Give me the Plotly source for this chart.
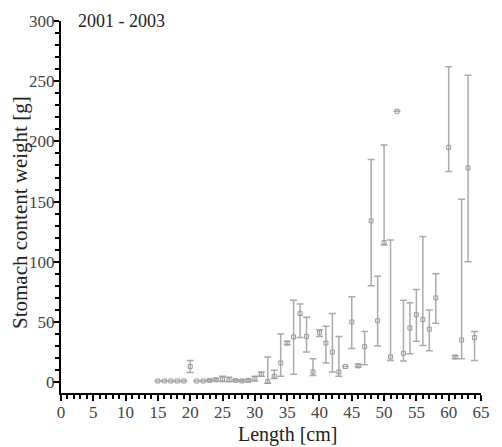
import plotly.graph_objects as go

length_cm = [15, 16, 17, 18, 19, 20, 21, 22, 23, 24, 25, 26, 27, 28, 29, 30, 31,
             32, 33, 34, 35, 36, 37, 38, 39, 40, 41, 42, 43, 44, 45, 46, 47, 48,
             49, 50, 51, 52, 53, 54, 55, 56, 57, 58, 60, 61, 62, 63, 64]
mean_g = [1, 1, 1, 1, 1, 13, 1, 1, 1.5, 2, 2.5, 2, 1.5, 1, 1.5, 3, 6.5,
          0.5, 5, 16, 32.5, 37.5, 57, 38, 8.5, 41, 32.5, 25, 8.5, 13, 50, 13.5, 29.5, 134,
          51, 116, 21, 225, 24, 45, 56, 52, 44, 70, 195, 21, 35, 178, 37]
upper_g = [1, 1, 1, 1, 1, 18, 1, 1, 2, 3, 5, 4, 2, 2, 2.5, 5, 8.5,
           21, 10, 40, 34, 68, 65, 54, 19.5, 43.5, 46.5, 57, 38, 13, 71, 15, 42, 185,
           88, 197, 118, 225, 68, 66, 77, 121, 60, 90, 262, 22, 152, 255, 42]
lower_g = [1, 1, 1, 1, 1, 8, 1, 1, 1, 1, 0.5, 0.5, 1, 0.5, 0.5, 1, 5,
           -1, 3, 5, 31, 6.5, 37, 25, 5.5, 38, 16, 8.5, 5, 13, 28, 12.5, 14.5, 80,
           30, 114, 18, 225, 17.5, 23.5, 34, 30.5, 26, 49, 175, 19.5, 19.5, 100, 18]

err_plus = [u - m for u, m in zip(upper_g, mean_g)]
err_minus = [m - l for m, l in zip(mean_g, lower_g)]

x_ticks = list(range(0, 66, 5))
y_ticks = list(range(0, 301, 50))

FONT = "Liberation Serif"
GREY = "#ababab"

fig = go.Figure()
fig.add_trace(go.Scatter(
    x=length_cm, y=mean_g, mode="markers",
    marker=dict(symbol="square-open", size=4, color="#9a9a9a", line=dict(width=1)),
    error_y=dict(type="data", symmetric=False, array=err_plus, arrayminus=err_minus,
                 color=GREY, thickness=1.5, width=3.5),
    showlegend=False,
))

axis_common = dict(
    showgrid=False, zeroline=False,
    showline=True, linecolor="black", linewidth=2,
    ticks="outside", ticklen=6, tickwidth=2, tickcolor="black",
    tickfont=dict(family=FONT, size=17, color="#444"),
)

fig.update_layout(
    width=502, height=447,
    margin=dict(l=61, r=13, t=18, b=54),
    paper_bgcolor="white", plot_bgcolor="white",
    font=dict(family=FONT, size=17, color="#333"),
    xaxis=dict(range=[0, 65], tickvals=x_ticks,
               minor=dict(dtick=1, ticks="outside", ticklen=4, tickwidth=1.5, tickcolor="black"),
               ticklabelstandoff=-3, **axis_common),
    yaxis=dict(range=[-9, 300], tickvals=y_ticks,
               minor=dict(dtick=10, ticks="outside", ticklen=4, tickwidth=1.5, tickcolor="black"),
               ticklabelstandoff=-5, **axis_common),
    annotations=[
        dict(text="2001 - 2003", x=(76 - 61) / (502 - 61 - 13), y=1.0, xref="paper", yref="paper",
             showarrow=False, font=dict(family=FONT, size=18, color="#222"),
             xanchor="left", yanchor="middle"),
        dict(text="Length [cm]", x=0.5, y=0, xref="paper", yref="paper", showarrow=False,
             font=dict(family=FONT, size=20, color="#222"), xanchor="center", yanchor="bottom",
             yshift=-55, xshift=16),
        dict(text="Stomach content weight [g]", x=0, y=0.5, xref="paper", yref="paper",
             showarrow=False, textangle=-90,
             font=dict(family=FONT, size=21, color="#222"), xanchor="center", yanchor="middle",
             xshift=-41, yshift=-6),
    ],
)

fig.write_html("out.html")
